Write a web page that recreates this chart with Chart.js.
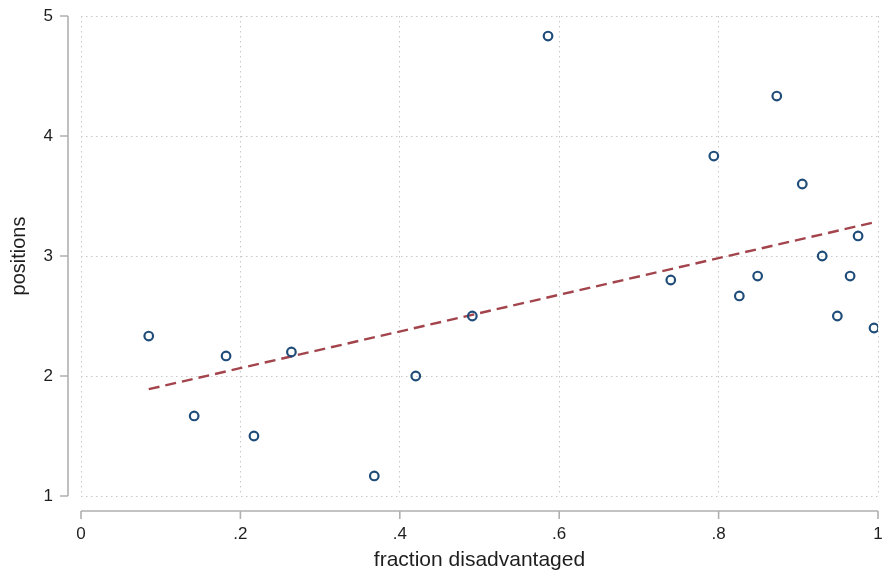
<!DOCTYPE html>
<html>
<head>
<meta charset="utf-8">
<title>positions vs fraction disadvantaged</title>
<script src="https://cdn.jsdelivr.net/npm/chart.js@4/dist/chart.umd.min.js"></script>
<style>
    html, body { margin: 0; padding: 0; background: #fff; }
    #wrap { width: 886px; height: 577px; }
</style>
</head>
<body>
<div id="wrap"><canvas id="chart" width="886" height="577"></canvas></div>
<script>
// scatter values
const fracDisadv = [0.085, 0.142, 0.182, 0.217, 0.264, 0.368, 0.420, 0.491, 0.586, 0.740,
                    0.794, 0.826, 0.849, 0.873, 0.905, 0.930, 0.949, 0.965, 0.975, 0.995];
const positions  = [2.333, 1.667, 2.167, 1.5, 2.2, 1.167, 2.0, 2.5, 4.833, 2.8,
                    3.833, 2.667, 2.833, 4.333, 3.6, 3.0, 2.5, 2.833, 3.167, 2.4];

// fitted line endpoints
const fitX = [0.085, 0.995];
const fitY = [1.89, 3.28];

const xTicks = [0, 0.2, 0.4, 0.6, 0.8, 1];
const yTicks = [1, 2, 3, 4, 5];

const textColor = '#1e1e1e';
const axisColor = '#b0b0b0';
const gridColor = '#c8c8c8';
const fontFamily = 'Arial, "Liberation Sans", sans-serif';

function fmtX(v) {
    if (v === 0) return '0';
    if (v === 1) return '1';
    return String(Math.round(v * 10) / 10).replace(/^0/, '');
}

// Stata style axes: lines sit a bit away from the plot region
const offsetAxes = {
    id: 'offsetAxes',
    afterDraw(chart) {
        const ctx = chart.ctx;
        const xs = chart.scales.x;
        const ys = chart.scales.y;
        const axX = chart.chartArea.left - 13;
        const axY = chart.chartArea.bottom + 15;
        ctx.save();
        ctx.strokeStyle = axisColor;
        ctx.lineWidth = 1.6;
        ctx.beginPath();
        ctx.moveTo(axX, ys.getPixelForValue(5));
        ctx.lineTo(axX, ys.getPixelForValue(1));
        yTicks.forEach(v => {
            const p = ys.getPixelForValue(v);
            ctx.moveTo(axX - 8, p);
            ctx.lineTo(axX, p);
        });
        ctx.moveTo(xs.getPixelForValue(0), axY);
        ctx.lineTo(xs.getPixelForValue(1), axY);
        xTicks.forEach(v => {
            const p = xs.getPixelForValue(v);
            ctx.moveTo(p, axY);
            ctx.lineTo(p, axY + 8);
        });
        ctx.stroke();
        ctx.restore();
    }
};

const scatterData = fracDisadv.map((x, i) => ({ x: x, y: positions[i] }));
const fitData = fitX.map((x, i) => ({ x: x, y: fitY[i] }));

new Chart(document.getElementById('chart').getContext('2d'), {
    type: 'scatter',
    data: {
        datasets: [
            {
                label: 'positions',
                data: scatterData,
                pointStyle: 'circle',
                pointRadius: 4.3,
                pointBorderWidth: 2.2,
                borderColor: '#1f4c78',
                backgroundColor: 'rgba(255,255,255,0)',
                order: 1
            },
            {
                type: 'line',
                label: 'Fitted values',
                data: fitData,
                borderColor: '#a3444c',
                borderWidth: 2.4,
                borderDash: [11, 6],
                pointRadius: 0,
                fill: false,
                order: 2
            }
        ]
    },
    options: {
        responsive: false,
        animation: false,
        layout: { padding: { top: 16, right: 8, left: 0, bottom: 0 } },
        plugins: {
            legend: { display: false },
            tooltip: { enabled: false }
        },
        scales: {
            x: {
                type: 'linear',
                min: 0,
                max: 1,
                afterBuildTicks: s => { s.ticks = xTicks.map(v => ({ value: v })); },
                afterFit: s => {
                    s.height = 81;
                    s.paddingLeft = 0;
                    s.paddingRight = 0;
                },
                ticks: {
                    color: textColor,
                    font: { family: fontFamily, size: 17 },
                    padding: 28,
                    maxRotation: 0,
                    callback: v => fmtX(v)
                },
                grid: { color: gridColor, lineWidth: 1, drawTicks: false },
                border: { display: false, dash: [1.5, 3.5] },
                title: {
                    display: true,
                    text: 'fraction disadvantaged',
                    color: textColor,
                    font: { family: fontFamily, size: 21 },
                    padding: { top: 0, bottom: 4 }
                }
            },
            y: {
                type: 'linear',
                min: 1,
                max: 5,
                afterBuildTicks: s => { s.ticks = yTicks.map(v => ({ value: v })); },
                afterFit: s => {
                    s.width = 81;
                    s.paddingTop = 0;
                    s.paddingBottom = 0;
                },
                ticks: {
                    color: textColor,
                    font: { family: fontFamily, size: 17 },
                    padding: 28,
                    callback: v => String(v)
                },
                grid: { color: gridColor, lineWidth: 1, drawTicks: false },
                border: { display: false, dash: [1.5, 3.5] },
                title: {
                    display: true,
                    text: 'positions',
                    color: textColor,
                    font: { family: fontFamily, size: 20 },
                    padding: { top: 7, bottom: 0 }
                }
            }
        }
    },
    plugins: [offsetAxes]
});
</script>
</body>
</html>
